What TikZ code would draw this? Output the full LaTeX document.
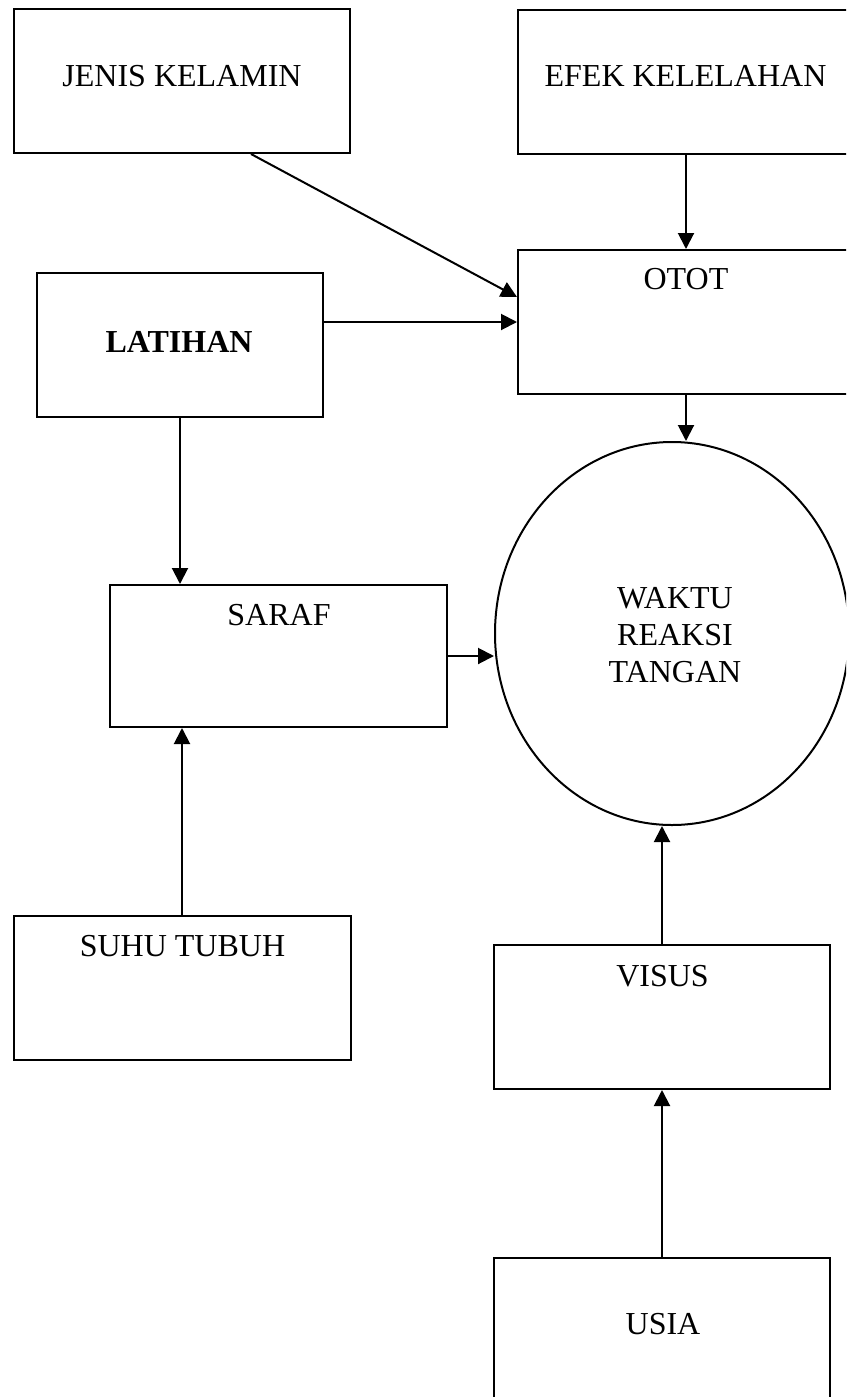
\documentclass[tikz,border=0pt]{standalone}
\usepackage{fontspec}
\setmainfont{Liberation Serif}
\usetikzlibrary{arrows.meta,shapes.geometric,calc}
\begin{document}
\begin{tikzpicture}[x=0.5pt,y=-0.5pt,
  box/.style={draw,line width=1pt,rectangle,inner sep=0pt},
  lbl/.style={anchor=base,inner sep=0pt,font=\fontsize{16}{18.5}\selectfont},
  arr/.style={line width=1pt,-{Triangle[length=8pt,width=8pt]}}]
\useasboundingbox (0,0) rectangle (846,1397);
\clip (0,0) rectangle (846,1397);
% boxes
\node[box,minimum width=168pt,minimum height=72pt] (jk) at (182,81) {};
\node[box,minimum width=168pt,minimum height=72pt] (efek) at (686,82) {};
\node[box,minimum width=168pt,minimum height=72pt] (otot) at (686,322) {};
\node[box,minimum width=143pt,minimum height=72pt] (lat) at (180,345) {};
\node[box,minimum width=168.5pt,minimum height=71pt] (saraf) at (278.5,656) {};
\node[box,minimum width=168.5pt,minimum height=72pt] (suhu) at (182,988) {};
\node[box,minimum width=168pt,minimum height=72pt] (visus) at (662,1017) {};
\node[box,minimum width=168pt,minimum height=72pt] (usia) at (662,1330) {};
\node[draw,ellipse,line width=1pt,inner sep=0pt,minimum width=177pt,minimum height=191.5pt] (wrt) at (672,633.5) {};
% labels
\node[lbl] (tjk) at (182,86) {JENIS KELAMIN};
\node[lbl] (tefek) at (685.5,86) {EFEK KELELAHAN};
\node[lbl] (totot) at (686,289) {OTOT};
\node[lbl,font=\fontsize{16}{18.5}\selectfont\bfseries] (tlat) at (179,352) {LATIHAN};
\node[lbl] (tsaraf) at (279,625) {SARAF};
\node[lbl] (tsuhu) at (182.5,956) {SUHU TUBUH};
\node[lbl] (tvisus) at (662.5,986) {VISUS};
\node[lbl] (tusia) at (663,1334) {USIA};
\node[lbl] (tw1) at (675,608) {WAKTU};
\node[lbl] (tw2) at (675,645) {REAKSI};
\node[lbl] (tw3) at (675,682) {TANGAN};
% connectors
\draw[arr] ($(jk.south)+(69,0)$) -- ($(otot.west)+(0,-25)$);
\draw[arr] (efek.south) -- (otot.north);
\draw[arr] (lat.east |- otot.west) -- (otot.west);
\draw[arr] (otot.south) -- (otot.south |- wrt.north);
\draw[arr] (lat.south) -- (lat.south |- saraf.north);
\draw[arr] (saraf.east) -- (saraf.east -| wrt.west);
\draw[arr] (suhu.north) -- (suhu.north |- saraf.south);
\draw[arr] (visus.north) -- (visus.north |- wrt.south);
\draw[arr] (usia.north) -- (visus.south);
\end{tikzpicture}
\end{document}
